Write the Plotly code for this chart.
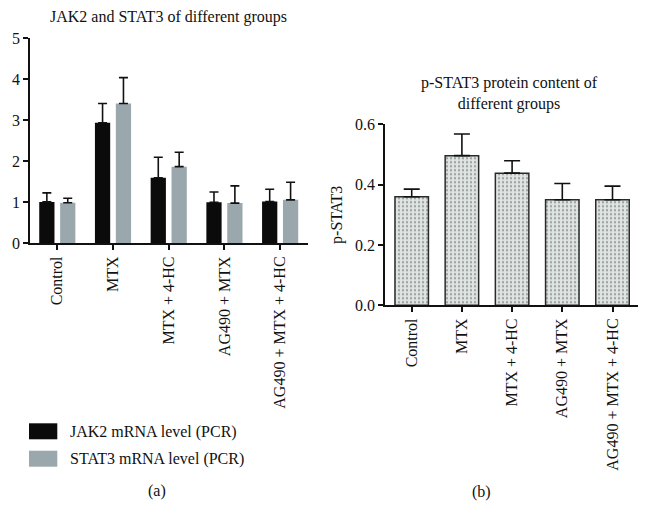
import plotly.graph_objects as go

groups = ["Control", "MTX", "MTX + 4-HC", "AG490 + MTX", "AG490 + MTX + 4-HC"]

# Panel (a): JAK2 and STAT3 mRNA levels (PCR)
jak2_mean = [1.01, 2.94, 1.60, 1.00, 1.02]
jak2_err = [0.22, 0.47, 0.50, 0.25, 0.30]
stat3_mean = [0.99, 3.41, 1.87, 0.98, 1.06]
stat3_err = [0.11, 0.63, 0.35, 0.42, 0.43]

# Panel (b): p-STAT3 protein content
pstat3_mean = [0.360, 0.496, 0.438, 0.350, 0.350]
pstat3_err = [0.025, 0.072, 0.041, 0.054, 0.045]

left_yticks = [0, 1, 2, 3, 4, 5]
right_yticks = [0.0, 0.2, 0.4, 0.6]
right_ytick_text = ["0.0", "0.2", "0.4", "0.6"]

FONT = "Liberation Serif"
INK = "#111111"
JAK2_COLOR = "#0b0b0b"
STAT3_COLOR = "#9aa8ae"
DOT_BG = "#dfe5e2"

fig = go.Figure()

fig.add_trace(go.Bar(
    x=groups, y=jak2_mean, name="JAK2 mRNA level (PCR)",
    marker=dict(color=JAK2_COLOR, line=dict(width=0)),
    error_y=dict(type="data", array=jak2_err, arrayminus=[0] * len(groups),
                 symmetric=False, color=INK, thickness=1.6, width=4.5),
    xaxis="x", yaxis="y", showlegend=False,
))
fig.add_trace(go.Bar(
    x=groups, y=stat3_mean, name="STAT3 mRNA level (PCR)",
    marker=dict(color=STAT3_COLOR, line=dict(width=0)),
    error_y=dict(type="data", array=stat3_err, arrayminus=[0] * len(groups),
                 symmetric=False, color=INK, thickness=1.6, width=4.5),
    xaxis="x", yaxis="y", showlegend=False,
))
fig.add_trace(go.Bar(
    x=groups, y=pstat3_mean, name="p-STAT3",
    width=0.667,
    marker=dict(color=DOT_BG, line=dict(color="#2a2a2a", width=1.5),
                pattern=dict(shape=".", fgcolor="#555555", bgcolor=DOT_BG,
                             size=4, solidity=0.25)),
    error_y=dict(type="data", array=pstat3_err, arrayminus=[0] * len(groups),
                 symmetric=False, color=INK, thickness=1.6, width=8),
    xaxis="x2", yaxis="y2", showlegend=False,
))

axis_common = dict(
    showline=True, linecolor=INK, linewidth=1.5,
    ticks="outside", ticklen=5, tickwidth=1.5, tickcolor=INK,
    showgrid=False, zeroline=False, automargin=False,
    tickfont=dict(family=FONT, size=16, color=INK),
)

fig.update_layout(
    width=649, height=525,
    margin=dict(l=0, r=0, t=0, b=0, autoexpand=False),
    paper_bgcolor="white", plot_bgcolor="white",
    barmode="group", bargap=0.25, bargroupgap=0.27,
    font=dict(family=FONT, size=16, color=INK),
    xaxis=dict(domain=[30 / 649, 308 / 649], range=[-0.49, 4.5],
               tickangle=-90, anchor="y", **axis_common),
    yaxis=dict(domain=[1 - 243.3 / 525, 1 - 38.3 / 525], range=[0, 5],
               tickvals=left_yticks, anchor="x", **axis_common),
    xaxis2=dict(domain=[385 / 649, 638 / 649], range=[-0.532, 4.508],
                tickangle=-90, anchor="y2", **axis_common),
    yaxis2=dict(domain=[1 - 305.3 / 525, 1 - 124.3 / 525], range=[0, 0.6],
                tickvals=right_yticks, ticktext=right_ytick_text, anchor="x2",
                title=dict(text="p-STAT3", font=dict(family=FONT, size=16, color=INK),
                           standoff=8),
                **axis_common),
)

# Titles
fig.add_annotation(text="JAK2 and STAT3 of different groups", xref="paper", yref="paper",
                   x=168 / 649, y=1 - 16.5 / 525, showarrow=False,
                   font=dict(family=FONT, size=16, color=INK), xanchor="center", yanchor="middle")
fig.add_annotation(text="p-STAT3 protein content of<br>different groups", xref="paper", yref="paper",
                   x=510 / 649, y=1 - 94 / 525, showarrow=False,
                   font=dict(family=FONT, size=16, color=INK), xanchor="center", yanchor="middle")

# Legend for panel (a)
legend_items = [("JAK2 mRNA level (PCR)", JAK2_COLOR, 423.3), ("STAT3 mRNA level (PCR)", STAT3_COLOR, 450.7)]
for label, color, top in legend_items:
    fig.add_shape(type="rect", xref="paper", yref="paper",
                  x0=29 / 649, x1=57.3 / 649, y0=1 - (top + 16) / 525, y1=1 - top / 525,
                  fillcolor=color, line=dict(width=0))
    fig.add_annotation(text=label, xref="paper", yref="paper",
                       x=68 / 649, y=1 - (top + 8.5) / 525, showarrow=False,
                       font=dict(family=FONT, size=16, color=INK), xanchor="left", yanchor="middle")

# Panel labels
fig.add_annotation(text="(a)", xref="paper", yref="paper", x=156.7 / 649, y=1 - 491 / 525,
                   showarrow=False, font=dict(family=FONT, size=16, color=INK),
                   xanchor="center", yanchor="middle")
fig.add_annotation(text="(b)", xref="paper", yref="paper", x=481 / 649, y=1 - 491.5 / 525,
                   showarrow=False, font=dict(family=FONT, size=16, color=INK),
                   xanchor="center", yanchor="middle")

fig.write_html("out.html", config={"displayModeBar": False},
               post_script="document.body.style.margin='0';document.body.style.overflow='hidden';")
